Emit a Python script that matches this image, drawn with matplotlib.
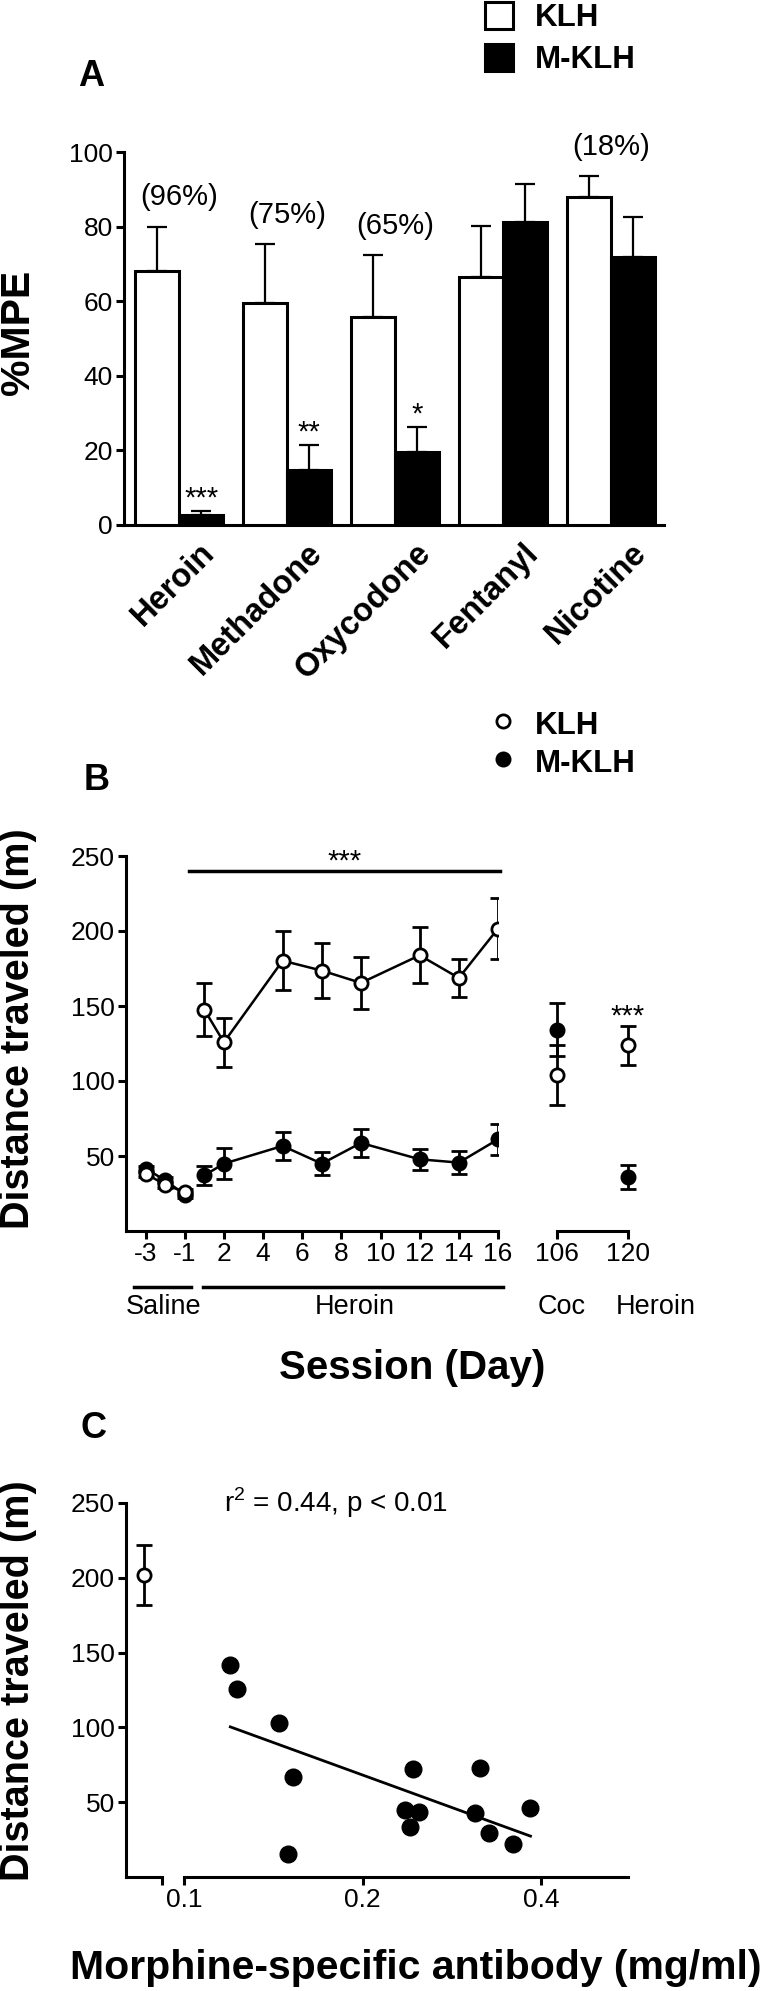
"""Three-panel KLH vs M-KLH figure: %MPE bars, locomotor sessions, antibody correlation."""

import matplotlib

matplotlib.use("Agg")
import matplotlib.pyplot as plt
import numpy as np
from matplotlib.lines import Line2D
from matplotlib.patches import Patch
from matplotlib.transforms import ScaledTranslation

NARROW = ["Liberation Sans Narrow", "Liberation Sans", "DejaVu Sans"]
WIDE = ["Liberation Sans", "DejaVu Sans"]
plt.rcParams["font.family"] = NARROW
plt.rcParams["mathtext.fontset"] = "custom"
plt.rcParams["mathtext.rm"] = "Liberation Sans"

# --- panel A: antinociception per drug
DRUGS = ["Heroin", "Methadone", "Oxycodone", "Fentanyl", "Nicotine"]
KLH_MPE = [68.2, 59.4, 55.7, 66.6, 88.0]
KLH_MPE_SEM = [11.8, 15.9, 16.6, 13.6, 5.6]
MKLH_MPE = [2.7, 14.8, 19.5, 81.3, 71.8]
MKLH_MPE_SEM = [1.0, 6.6, 6.9, 10.2, 10.7]
BLOCKADE = ["(96%)", "(75%)", "(65%)", "", "(18%)"]
SIG_A = ["***", "**", "*", "", ""]

# --- panel B: distance traveled per session
SAL_DAYS = [-3, -2, -1]
SAL_KLH = [38.2, 30.9, 26.0]
SAL_MKLH = [41.6, 33.8, 24.3]
SAL_SEM = [2.0, 2.0, 2.0]
HER_DAYS = [1, 2, 5, 7, 9, 12, 14, 16]
HER_KLH = [147.6, 125.8, 180.2, 173.6, 165.4, 183.8, 168.7, 201.6]
HER_KLH_SEM = [17.5, 16.2, 19.6, 18.3, 17.3, 18.6, 12.6, 20.1]
HER_MKLH = [37.1, 44.9, 56.7, 44.9, 58.7, 47.8, 45.6, 61.1]
HER_MKLH_SEM = [6.3, 10.3, 9.2, 7.6, 9.3, 6.9, 7.5, 10.3]
LATE_DAYS = [106, 120]
LATE_KLH = [103.8, 123.8]
LATE_KLH_SEM = [20.0, 13.0]
LATE_MKLH = [134.2, 36.2]
LATE_MKLH_SEM = [17.5, 8.0]
DAY_TICKS = [-3, -1, 2, 4, 6, 8, 10, 12, 14, 16]

# --- panel C: distance vs morphine-specific antibody
AB_CONC = [0.1197, 0.1227, 0.1446, 0.1528, 0.1497, 0.2435, 0.2358,
           0.2490, 0.2403, 0.3160, 0.3100, 0.3270, 0.3590, 0.3840]
AB_DIST = [141.8, 125.8, 102.9, 66.7, 15.1, 72.5, 45.1,
           43.6, 33.6, 72.9, 42.9, 29.6, 21.8, 46.2]
KLH_DIST = 201.6
KLH_DIST_SEM = 20.0
CONC_TICKS = [0.1, 0.2, 0.4]

W, H = 760, 1991
LW = 2.2


def px_axes(fig, left, top, right, bottom):
    return fig.add_axes([left / W, 1 - bottom / H, (right - left) / W, (bottom - top) / H])


def fig_text(fig, x, y, s, **kw):
    fig.text(x / W, 1 - y / H, s, **kw)


def style(ax, left=True):
    ax.spines["top"].set_visible(False)
    ax.spines["right"].set_visible(False)
    ax.spines["left"].set_visible(left)
    for sp in ax.spines.values():
        sp.set_linewidth(LW)
    ax.tick_params(width=LW, length=6, labelsize=19, pad=2)
    if not left:
        ax.tick_params(axis="y", left=False, labelleft=False)


def unclip(container):
    for artist in container.get_children():
        artist.set_clip_on(False)


def session_pos(day):
    # saline days sit one slot closer to the heroin block on the axis
    return day + 1 if day < 0 else day


fig = plt.figure(figsize=(W / 100, H / 100), dpi=100)
bold_label = dict(fontweight="bold", family=WIDE, ha="center", va="center")

# ---------------- A
ax = px_axes(fig, 124, 152, 664, 525)
style(ax)
x = np.arange(len(DRUGS))
w = 0.41
ax.bar(x - w / 2, KLH_MPE, w, color="white", edgecolor="black", linewidth=LW, zorder=3)
ax.bar(x + w / 2, MKLH_MPE, w, color="black", edgecolor="black", linewidth=LW, zorder=3)
zeros = np.zeros(len(DRUGS))
ax.errorbar(x - w / 2, KLH_MPE, yerr=[zeros, KLH_MPE_SEM], fmt="none", ecolor="black",
            elinewidth=1.6, capsize=7, capthick=1.6, zorder=2)
ax.errorbar(x + w / 2, MKLH_MPE, yerr=[zeros, MKLH_MPE_SEM], fmt="none", ecolor="black",
            elinewidth=1.6, capsize=7, capthick=1.6, zorder=2)
for i in range(len(DRUGS)):
    if BLOCKADE[i]:
        ax.annotate(BLOCKADE[i], (x[i], KLH_MPE[i] + KLH_MPE_SEM[i]), xytext=(0, 21),
                    textcoords="offset points", ha="center", va="center", fontsize=21,
                    annotation_clip=False)
    if SIG_A[i]:
        ax.annotate(SIG_A[i], (x[i] + w / 2, MKLH_MPE[i] + MKLH_MPE_SEM[i]), xytext=(0, 3),
                    textcoords="offset points", ha="center", va="baseline", fontsize=21)
ax.set_xlim(-0.51, 4.49)
ax.set_ylim(0, 100)
ax.set_yticks(range(0, 101, 20))
ax.set_xticks(x)
ax.set_xticklabels(DRUGS, rotation=45, ha="right", va="top", rotation_mode="anchor",
                   fontweight="bold", fontsize=23.5, family=WIDE)
ax.tick_params(axis="x", length=0, pad=9)
shift = ScaledTranslation(0.2, 0, fig.dpi_scale_trans)
for lab in ax.get_xticklabels():
    lab.set_transform(lab.get_transform() + shift)
ax.legend(handles=[Patch(facecolor="white", edgecolor="black", linewidth=LW, label="KLH"),
                   Patch(facecolor="black", edgecolor="black", linewidth=LW, label="M-KLH")],
          loc="upper left", bbox_to_anchor=(485 / W, 1 - 2 / H), bbox_transform=fig.transFigure,
          frameon=False, borderpad=0, borderaxespad=0, handlelength=0.9, handleheight=0.95,
          handletextpad=0.7, labelspacing=0.35, prop={"family": WIDE, "weight": "bold", "size": 22.5})
fig_text(fig, 91, 76, "A", fontsize=26, **bold_label)
fig_text(fig, 18, 332, "%MPE", rotation=90, fontsize=29.5, **bold_label)

# ---------------- B
ax = px_axes(fig, 126, 856, 498, 1231)
style(ax)
ekw = dict(color="black", ms=9.5, mew=2, lw=1.8, elinewidth=2, capsize=6, capthick=2)
sal_x = [session_pos(d) for d in SAL_DAYS]
her_x = [session_pos(d) for d in HER_DAYS]
ax.errorbar(sal_x, SAL_MKLH, yerr=SAL_SEM, fmt="-o", mfc="black", **ekw)
ax.errorbar(her_x, HER_MKLH, yerr=HER_MKLH_SEM, fmt="-o", mfc="black", **ekw)
ax.errorbar(sal_x, SAL_KLH, yerr=SAL_SEM, fmt="-o", mfc="white", **ekw)
ax.errorbar(her_x, HER_KLH, yerr=HER_KLH_SEM, fmt="-o", mfc="white", **ekw)
ax.set_xlim(-3, 16)
ax.set_ylim(0, 250)
ax.set_yticks(range(50, 251, 50))
ax.set_xticks([session_pos(d) for d in DAY_TICKS])
ax.set_xticklabels([str(d) for d in DAY_TICKS])
ax.plot([0.2, 16.1], [240, 240], color="black", lw=2.5, clip_on=False)
ax.text(8.15, 241, "***", ha="center", va="baseline", fontsize=21)
ax.plot([-2.61, 0.3], [-37, -37], color="black", lw=2.5, clip_on=False)
ax.plot([0.91, 16.27], [-37, -37], color="black", lw=2.5, clip_on=False)
ax.text(-1.08, -51, "Saline", ha="center", va="center", fontsize=19.5)
ax.text(8.7, -51, "Heroin", ha="center", va="center", fontsize=19.5)

ax2 = px_axes(fig, 557, 856, 628, 1231)
style(ax2, left=False)
eb = ax2.errorbar(LATE_DAYS, LATE_KLH, yerr=LATE_KLH_SEM, fmt="o", mfc="white", **ekw)
unclip(eb)
eb = ax2.errorbar(LATE_DAYS, LATE_MKLH, yerr=LATE_MKLH_SEM, fmt="o", mfc="black", **ekw)
unclip(eb)
ax2.set_xlim(LATE_DAYS[0], LATE_DAYS[-1])
ax2.set_ylim(0, 250)
ax2.set_xticks(LATE_DAYS)
ax2.annotate("***", (LATE_DAYS[1], LATE_KLH[1] + LATE_KLH_SEM[1]), xytext=(0, 1),
             textcoords="offset points", ha="center", va="baseline", fontsize=21)
ax2.text(107, -51, "Coc", ha="center", va="center", fontsize=19.5)
ax2.text(125.5, -51, "Heroin", ha="center", va="center", fontsize=19.5)

ax.legend(handles=[Line2D([], [], ls="none", marker="o", ms=9.5, mew=2, mfc="white", mec="black", label="KLH"),
                   Line2D([], [], ls="none", marker="o", ms=9.5, mew=2, mfc="black", mec="black", label="M-KLH")],
          loc="upper left", bbox_to_anchor=(488 / W, 1 - 709 / H), bbox_transform=fig.transFigure,
          frameon=False, borderpad=0, borderaxespad=0, handlelength=0.95, handleheight=1.0,
          handletextpad=0.55, labelspacing=0.2, prop={"family": WIDE, "weight": "bold", "size": 22.5})
fig_text(fig, 97, 781, "B", fontsize=26, **bold_label)
fig_text(fig, 18, 1029, "Distance traveled (m)", rotation=90, fontsize=28.5, **bold_label)
fig_text(fig, 412, 1368, "Session (Day)", fontsize=29, **bold_label)

# ---------------- C
axk = px_axes(fig, 126, 1503, 162, 1877)
style(axk)
axk.errorbar([0.5], [KLH_DIST], yerr=[KLH_DIST_SEM], fmt="o", mfc="white", **ekw)
axk.set_xlim(0, 1)
axk.set_ylim(0, 250)
axk.set_yticks(range(50, 251, 50))
axk.set_xticks([1])
axk.set_xticklabels([])

axs = px_axes(fig, 184, 1503, 628, 1877)
style(axs, left=False)
axs.set_xscale("log")
axs.plot(AB_CONC, AB_DIST, "o", color="black", ms=12, clip_on=False)
conc = np.array(AB_CONC)
slope, icpt = np.polyfit(np.log10(conc), AB_DIST, 1)
ends = np.array([conc.min(), conc.max()])
axs.plot(ends, icpt + slope * np.log10(ends), color="black", lw=2)
axs.set_xlim(0.1, 0.1 * 2 ** (444 / 178.5))
axs.set_ylim(0, 250)
axs.set_xticks(CONC_TICKS)
axs.set_xticklabels([f"{c:g}" for c in CONC_TICKS])
axs.minorticks_off()

fig_text(fig, 93, 1429, "C", fontsize=26, **bold_label)
fig_text(fig, 224, 1503, "r$^2$ = 0.44, p < 0.01", ha="left", va="center", fontsize=20)
fig_text(fig, 18, 1681, "Distance traveled (m)", rotation=90, fontsize=28.5, **bold_label)
fig_text(fig, 416, 1968, "Morphine-specific antibody (mg/ml)", fontsize=29.5, **bold_label)

fig.savefig("out.png", dpi=100)
